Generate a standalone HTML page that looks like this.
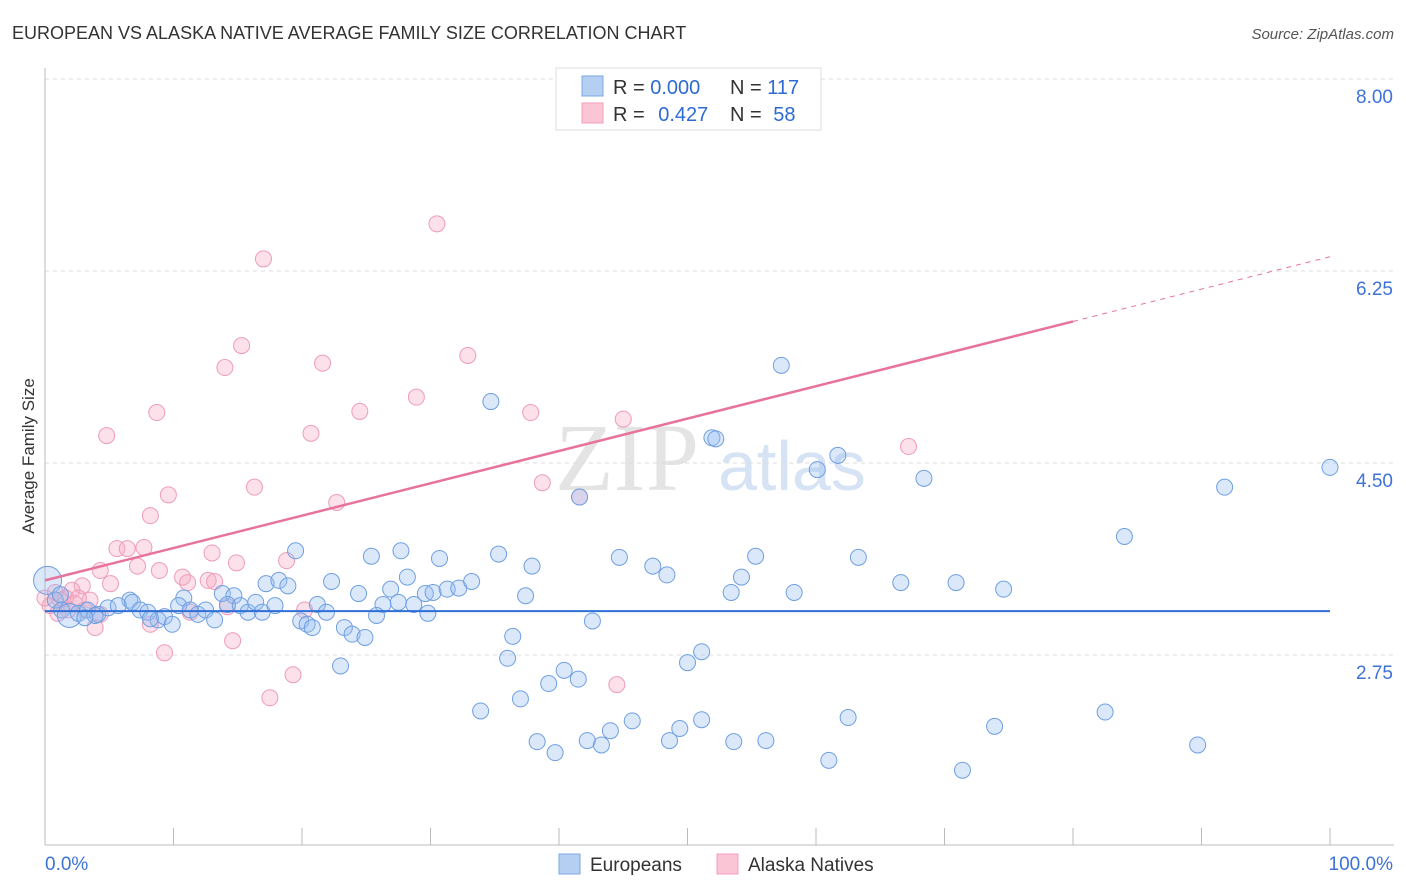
<!DOCTYPE html>
<html><head><meta charset="utf-8">
<style>
body{margin:0;background:#fff;font-family:"Liberation Sans",sans-serif;}
svg{display:block}
</style></head>
<body>
<svg id="chart" width="1406" height="892" xmlns="http://www.w3.org/2000/svg">
<text x="12" y="39" font-size="18" fill="#333">EUROPEAN VS ALASKA NATIVE AVERAGE FAMILY SIZE CORRELATION CHART</text>
<text x="1394" y="39" font-size="15" fill="#555" font-style="italic" text-anchor="end">Source: ZipAtlas.com</text>
<text x="34" y="456" font-size="17" fill="#333" text-anchor="middle" transform="rotate(-90 34 456)">Average Family Size</text>
<text x="555" y="490" font-size="96" fill="#e4e4e4" font-family="Liberation Serif,serif">ZIP</text>
<text x="718" y="490" font-size="70" fill="#d6e3f5">atlas</text>
<g id="grid"></g>
<g id="axes"></g>
<g id="pts"></g>
<g id="lines"></g>
<g>
<rect x="556" y="68" width="265" height="62" fill="#fff" stroke="#ddd"/>
<rect x="582" y="76" width="21" height="20" fill="#b5cff3" stroke="#7aa7e6"/>
<rect x="582" y="103" width="21" height="20" fill="#fac5d5" stroke="#f0a0ba"/>
<text x="613" y="94" font-size="20" fill="#333">R = <tspan fill="#2e6bd1">0.000</tspan></text>
<text x="730" y="94" font-size="20" fill="#333">N = <tspan fill="#2e6bd1">117</tspan></text>
<text x="613" y="121" font-size="20" fill="#333">R = <tspan fill="#2e6bd1" dx="8">0.427</tspan></text>
<text x="730" y="121" font-size="20" fill="#333">N = <tspan fill="#2e6bd1" dx="6">58</tspan></text>
</g>
<g>
<rect x="559" y="854" width="21" height="20" fill="#b5cff3" stroke="#7aa7e6"/>
<text x="590" y="871" font-size="19" fill="#333">Europeans</text>
<rect x="717" y="854" width="21" height="20" fill="#fac5d5" stroke="#f0a0ba"/>
<text x="748" y="871" font-size="19" fill="#333">Alaska Natives</text>
</g>
</svg>
<script>
const yTicks=[8.00,6.25,4.50,2.75];
const yTickLabels=["8.00","6.25","4.50","2.75"];
const xTickPct=[0,10,20,30,40,50,60,70,80,90,100];
const xLabels=["0.0%","100.0%"];
const blueX=[34.7,57.3,51.9,52.2,60.1,61.7,68.4,100,91.8,84.0,41.6,19.5,25.4,27.7,30.7,35.3,37.9,44.7,47.3,48.4,55.3,54.2,63.3,66.6,70.9,74.6,53.4,58.3,17.2,18.2,18.9,22.3,24.4,26.9,28.2,29.6,30.2,31.3,32.2,33.2,37.4,13.8,14.7,10.8,6.6,26.3,27.5,28.7,29.8,42.6,25.8,21.2,21.9,19.9,20.4,20.8,23.3,23.9,24.9,36.4,23.0,36.0,40.4,41.5,39.2,37.0,33.9,50.0,51.1,45.7,44.0,42.2,43.3,38.3,39.7,48.6,49.4,51.1,53.6,56.1,61.0,62.5,71.4,73.9,82.5,89.7,0.2,0.8,1.3,1.9,2.6,3.3,4.1,4.9,5.7,6.8,7.4,8.0,8.8,9.3,9.9,10.4,11.3,11.9,12.5,13.2,14.2,15.2,15.8,16.4,16.9,17.9,1.2,3.9,3.1,8.2];
const blueY=[5.06,5.39,4.73,4.72,4.44,4.57,4.36,4.46,4.28,3.83,4.19,3.70,3.65,3.70,3.63,3.67,3.56,3.64,3.56,3.48,3.65,3.46,3.64,3.41,3.41,3.35,3.32,3.32,3.40,3.43,3.38,3.42,3.31,3.35,3.46,3.31,3.32,3.35,3.36,3.42,3.29,3.31,3.29,3.27,3.25,3.21,3.23,3.21,3.13,3.06,3.11,3.21,3.14,3.06,3.03,3.00,3.00,2.94,2.91,2.92,2.65,2.72,2.61,2.53,2.49,2.35,2.24,2.68,2.78,2.15,2.06,1.97,1.93,1.96,1.86,1.97,2.08,2.16,1.96,1.97,1.79,2.18,1.70,2.10,2.23,1.93,3.43,3.25,3.16,3.11,3.13,3.16,3.12,3.18,3.20,3.23,3.16,3.14,3.07,3.10,3.03,3.20,3.16,3.12,3.16,3.07,3.21,3.20,3.14,3.23,3.14,3.20,3.30,3.11,3.09,3.08];
const blueSize=[];
const pinkX=[30.5,17.0,15.3,14.0,21.6,32.9,28.9,24.5,8.7,37.8,45.0,20.7,4.8,67.2,38.7,16.3,9.6,22.7,41.6,8.2,5.6,6.4,7.7,13.0,18.8,14.9,7.2,8.9,4.3,10.7,11.1,12.7,13.2,5.1,2.9,2.1,0.8,1.2,1.6,3.5,2.3,14.2,11.3,20.2,8.2,3.9,9.3,14.6,19.3,17.5,44.5,0.4,1.8,1.0,3.1,4.3,0,2.6];
const pinkY=[6.68,6.36,5.57,5.37,5.41,5.48,5.10,4.97,4.96,4.96,4.90,4.77,4.75,4.65,4.32,4.28,4.21,4.14,4.19,4.02,3.72,3.72,3.73,3.68,3.61,3.59,3.56,3.52,3.52,3.46,3.41,3.43,3.42,3.40,3.38,3.34,3.32,3.25,3.27,3.25,3.22,3.19,3.14,3.16,3.03,3.00,2.77,2.88,2.57,2.36,2.48,3.20,3.16,3.13,3.16,3.12,3.27,3.27];
const blueTrend=[3.15,0];      // intercept, slope per %
const pinkTrend=[3.43,0.0295];

const X0=45,X1=1330,Ytop=79,Ybot=847,V0=1,V1=8;
const sx=p=>X0+(X1-X0)*p/100;
const sy=v=>Ybot-(Ybot-Ytop)*(v-V0)/(V1-V0);
const NS="http://www.w3.org/2000/svg";
function mk(tag,attrs,parent){const e=document.createElementNS(NS,tag);for(const k in attrs)e.setAttribute(k,attrs[k]);parent.appendChild(e);return e;}
const grid=document.getElementById('grid'),axes=document.getElementById('axes'),pts=document.getElementById('pts'),lines=document.getElementById('lines');
yTicks.forEach((v,i)=>{
  const l=mk('line',{x1:X0,x2:1394,y1:sy(v),y2:sy(v),stroke:'#ddd','stroke-dasharray':'4 4'},grid);
  
  
  const t=mk('text',{x:1393,y:sy(v)+24,'font-size':19,fill:'#3d72d6','text-anchor':'end'},axes);
  t.textContent=yTickLabels[i];
  
  
});
const ya=mk('line',{x1:X0,x2:X0,y1:68,y2:845,stroke:'#bbb'},axes);


const xa=mk('line',{x1:X0,x2:1394,y1:845,y2:845,stroke:'#bbb'},axes);


xTickPct.forEach(p=>{
  const t=mk('line',{x1:sx(p),x2:sx(p),y1:828,y2:845,stroke:'#bbb'},axes);
  
  
});
const xl0=mk('text',{x:45,y:870,'font-size':19,fill:'#3d72d6'},axes);
xl0.textContent=xLabels[0];


const xl1=mk('text',{x:1393,y:870,'font-size':19,fill:'#3d72d6','text-anchor':'end'},axes);
xl1.textContent=xLabels[1];



pinkX.forEach((x,i)=>{
  const c=mk('circle',{cx:sx(x),cy:sy(pinkY[i]),r:8,fill:'rgba(245,170,195,0.35)',stroke:'#ee9cb7','stroke-width':1},pts);
  
  
});
blueX.forEach((x,i)=>{
  let r=8; if(i===86) r=14; if(i===89) r=12;
  const c=mk('circle',{cx:sx(x),cy:sy(blueY[i]),r:r,fill:'rgba(150,190,240,0.35)',stroke:'#6f9fe2','stroke-width':1},pts);
  
  
});
const bl=mk('line',{x1:sx(0),x2:sx(100),y1:sy(blueTrend[0]),y2:sy(blueTrend[0]+blueTrend[1]*100),stroke:'#2f6fd6','stroke-width':2},lines);


const pl=mk('line',{x1:sx(0),x2:sx(80),y1:sy(pinkTrend[0]),y2:sy(pinkTrend[0]+pinkTrend[1]*80),stroke:'#e8739a','stroke-width':2.5},lines);


const pd=mk('line',{x1:sx(80),x2:sx(100),y1:sy(pinkTrend[0]+pinkTrend[1]*80),y2:sy(pinkTrend[0]+pinkTrend[1]*100),stroke:'#e8739a','stroke-width':1,'stroke-dasharray':'5 5'},lines);


</script>
</body></html>
